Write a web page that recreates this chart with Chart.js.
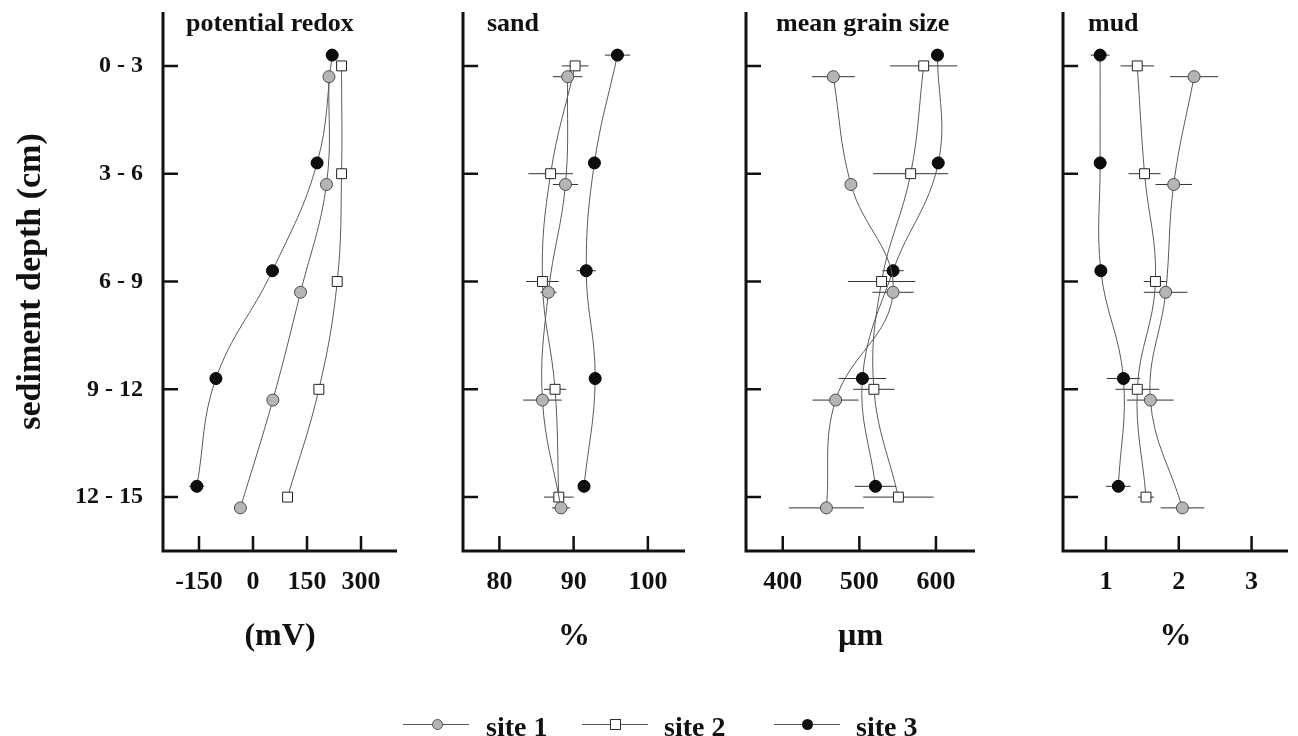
<!DOCTYPE html>
<html lang="en">

<head>
    <meta charset="UTF-8">
    <title>Sediment profiles</title>
    <script src="https://cdn.jsdelivr.net/npm/chart.js"></script>

    <style>
        body {
            margin: 0;
            width: 1298px;
            height: 736px;
            overflow: hidden;
            position: relative;
            background: #fff;
            font-family: "Liberation Serif", "Times New Roman", serif;
        }

        canvas.panel {
            position: absolute;
            left: 0;
            top: 0;
        }

        .lg-line {
            position: absolute;
            top: 724px;
            width: 66px;
            height: 1px;
            background: #555;
        }

        .lg-mk {
            position: absolute;
            box-sizing: border-box;
        }

        .lg-tx {
            position: absolute;
            top: 713px;
            font-weight: bold;
            font-size: 28px;
            line-height: 28px;
            color: #111;
            white-space: nowrap;
        }
    </style>
</head>

<body>

    <canvas class="panel" id="redox" width="1298" height="736"></canvas>
    <canvas class="panel" id="sand" width="1298" height="736"></canvas>
    <canvas class="panel" id="grain" width="1298" height="736"></canvas>
    <canvas class="panel" id="mud" width="1298" height="736"></canvas>

    <div class="lg-line" style="left:403px"></div>
    <div class="lg-mk" style="left:432px;top:719px;width:11px;height:11px;border-radius:50%;background:#b5b5b5;border:1px solid #555"></div>
    <div class="lg-tx" style="left:486px">site 1</div>

    <div class="lg-line" style="left:582px"></div>
    <div class="lg-mk" style="left:610px;top:719px;width:11px;height:11px;background:#fff;border:1px solid #333"></div>
    <div class="lg-tx" style="left:664px">site 2</div>

    <div class="lg-line" style="left:774px"></div>
    <div class="lg-mk" style="left:802px;top:719px;width:11px;height:11px;border-radius:50%;background:#111"></div>
    <div class="lg-tx" style="left:856px">site 3</div>

</body>

</html>

<script>
    // depth classes (cm), top to bottom
    const depths = ['0 - 3', '3 - 6', '6 - 9', '9 - 12', '12 - 15'];

    // potential redox (mV)
    const redoxSite1 = [211, 204, 132, 55, -35];
    const redoxSite2 = [246, 246, 234, 183, 96];
    const redoxSite3 = [220, 178, 54, -103, -156];
    const redoxErr1 = [0, 0, 0, 0, 0];
    const redoxErr2 = [0, 0, 0, 0, 0];
    const redoxErr3 = [0, 0, 0, 0, 21];
    const redoxTicks = [-150, 0, 150, 300];

    // sand (%)
    const sandSite1 = [89.2, 88.9, 86.6, 85.8, 88.3];
    const sandSite2 = [90.2, 86.9, 85.8, 87.5, 88.0];
    const sandSite3 = [95.9, 92.8, 91.7, 92.9, 91.4];
    const sandErr1 = [2.0, 1.7, 1.1, 2.6, 1.2];
    const sandErr2 = [1.8, 3.0, 2.2, 1.5, 2.0];
    const sandErr3 = [1.7, 0, 1.3, 0, 0];
    const sandTicks = [80, 90, 100];

    // mean grain size (µm)
    const grainSite1 = [466, 489, 544, 469, 457];
    const grainSite2 = [584, 567, 529, 519, 551];
    const grainSite3 = [602, 603, 544, 504, 521];
    const grainErr1 = [28, 0, 27, 30, 49];
    const grainErr2 = [44, 49, 44, 27, 46];
    const grainErr3 = [0, 0, 14, 31, 27];
    const grainTicks = [400, 500, 600];

    // mud (%)
    const mudSite1 = [2.21, 1.93, 1.82, 1.61, 2.05];
    const mudSite2 = [1.43, 1.53, 1.68, 1.43, 1.55];
    const mudSite3 = [0.92, 0.92, 0.93, 1.24, 1.17];
    const mudErr1 = [0.33, 0.25, 0.30, 0.32, 0.30];
    const mudErr2 = [0.23, 0.22, 0.16, 0.30, 0.11];
    const mudErr3 = [0.13, 0, 0, 0.23, 0.17];
    const mudTicks = [1, 2, 3];

    const FONT = '"Liberation Serif", "Times New Roman", serif';
    const INK = '#111';

    // sites are drawn slightly apart vertically within each depth class
    const shift = { 1: 0.1, 2: 0, 3: -0.1 };

    const siteStyle = {
        1: { pointStyle: 'circle', pointRadius: 6, pointBackgroundColor: '#b5b5b5', pointBorderColor: '#4a4a4a' },
        2: { pointStyle: 'rect', pointRadius: 7, pointBackgroundColor: '#fff', pointBorderColor: '#222' },
        3: { pointStyle: 'circle', pointRadius: 6, pointBackgroundColor: '#0d0d0d', pointBorderColor: '#000' }
    };

    function profile(values, site) {
        return values.map((v, i) => ({ x: v, y: i + shift[site] }));
    }

    function errorBars(values, errs, site) {
        const pts = [];
        values.forEach((v, i) => {
            if (!errs[i]) return;
            pts.push({ x: v - errs[i], y: i + shift[site] });
            pts.push({ x: v + errs[i], y: i + shift[site] });
            pts.push({ x: null, y: null });
        });
        return pts;
    }

    // axis lines, inward tick marks and the panel title
    const panelAxes = {
        id: 'panelAxes',
        beforeDatasetsDraw(chart, args, opts) {
            const { ctx, chartArea: a, scales: { x, y } } = chart;
            ctx.save();
            ctx.strokeStyle = INK;
            ctx.lineWidth = 3;
            ctx.beginPath();
            ctx.moveTo(a.left, a.top);
            ctx.lineTo(a.left, a.bottom);
            ctx.lineTo(a.right, a.bottom);
            ctx.stroke();

            ctx.lineWidth = 2.5;
            ctx.beginPath();
            y.ticks.forEach(t => {
                const py = y.getPixelForValue(t.value);
                ctx.moveTo(a.left, py);
                ctx.lineTo(a.left + 15, py);
            });
            x.ticks.forEach(t => {
                const px = x.getPixelForValue(t.value);
                ctx.moveTo(px, a.bottom);
                ctx.lineTo(px, a.bottom - 15);
            });
            ctx.stroke();

            ctx.fillStyle = INK;
            ctx.font = 'bold 26px ' + FONT;
            ctx.textBaseline = 'middle';
            ctx.textAlign = 'left';
            ctx.fillText(opts.title, a.left + opts.inset, a.top + 12);
            ctx.restore();
        }
    };

    function makePanel(id, cfg) {
        const datasets = [];
        [1, 2, 3].forEach(s => {
            datasets.push(Object.assign({
                label: 'site ' + s,
                data: profile(cfg.sites[s - 1], s),
                showLine: true,
                tension: 0.4,
                borderColor: '#5a5a5a',
                borderWidth: 1,
                pointBorderWidth: 1
            }, siteStyle[s]));
        });
        [1, 2, 3].forEach(s => {
            datasets.push({
                label: 'err ' + s,
                data: errorBars(cfg.sites[s - 1], cfg.errs[s - 1], s),
                showLine: true,
                spanGaps: false,
                tension: 0,
                borderColor: '#333',
                borderWidth: 1,
                pointRadius: 0
            });
        });

        const yWidth = cfg.labels ? cfg.left : 10;

        new Chart(document.getElementById(id), {
            type: 'scatter',
            data: { datasets },
            options: {
                responsive: false,
                animation: false,
                layout: {
                    padding: { left: cfg.left - yWidth, right: 1298 - cfg.right, top: 12, bottom: 0 }
                },
                plugins: {
                    legend: { display: false },
                    tooltip: { enabled: false },
                    panelAxes: { title: cfg.title, inset: cfg.inset }
                },
                scales: {
                    x: {
                        type: 'linear',
                        min: cfg.min,
                        max: cfg.max,
                        grid: { display: false, drawTicks: false },
                        border: { display: false },
                        afterBuildTicks: s => { s.ticks = cfg.ticks.map(v => ({ value: v })); },
                        afterFit: s => {
                            s.height = 185;
                            s.paddingLeft = 0;
                            s.paddingRight = 0;
                        },
                        ticks: {
                            color: INK,
                            padding: 16,
                            maxRotation: 0,
                            font: { family: FONT, size: 26, weight: 'bold' }
                        },
                        title: {
                            display: true,
                            text: cfg.unit,
                            color: INK,
                            font: { family: FONT, size: 32, weight: 'bold' },
                            padding: { top: 0, bottom: 80 }
                        }
                    },
                    y: {
                        type: 'linear',
                        min: -0.5,
                        max: 4.5,
                        reverse: true,
                        grid: { display: false, drawTicks: false },
                        border: { display: false },
                        afterBuildTicks: s => { s.ticks = depths.map((d, i) => ({ value: i })); },
                        afterFit: s => {
                            s.width = yWidth;
                            s.paddingTop = 0;
                            s.paddingBottom = 0;
                        },
                        ticks: {
                            display: cfg.labels,
                            color: INK,
                            padding: 20,
                            callback: v => depths[v],
                            font: { family: FONT, size: 24, weight: 'bold' }
                        },
                        title: {
                            display: cfg.labels,
                            text: 'sediment depth (cm)',
                            color: INK,
                            font: { family: FONT, size: 34, weight: 'bold' },
                            padding: { top: 11, bottom: 0 }
                        }
                    }
                }
            },
            plugins: [panelAxes]
        });
    }

    makePanel('redox', {
        title: 'potential redox', unit: '(mV)', labels: true, inset: 23,
        left: 163, right: 397, min: -250, max: 400, ticks: redoxTicks,
        sites: [redoxSite1, redoxSite2, redoxSite3], errs: [redoxErr1, redoxErr2, redoxErr3]
    });
    makePanel('sand', {
        title: 'sand', unit: '%', labels: false, inset: 24,
        left: 463, right: 685, min: 75.1, max: 105, ticks: sandTicks,
        sites: [sandSite1, sandSite2, sandSite3], errs: [sandErr1, sandErr2, sandErr3]
    });
    makePanel('grain', {
        title: 'mean grain size', unit: 'µm', labels: false, inset: 30,
        left: 746, right: 975, min: 352, max: 651, ticks: grainTicks,
        sites: [grainSite1, grainSite2, grainSite3], errs: [grainErr1, grainErr2, grainErr3]
    });
    makePanel('mud', {
        title: 'mud', unit: '%', labels: false, inset: 25,
        left: 1063, right: 1288, min: 0.41, max: 3.5, ticks: mudTicks,
        sites: [mudSite1, mudSite2, mudSite3], errs: [mudErr1, mudErr2, mudErr3]
    });
</script>
